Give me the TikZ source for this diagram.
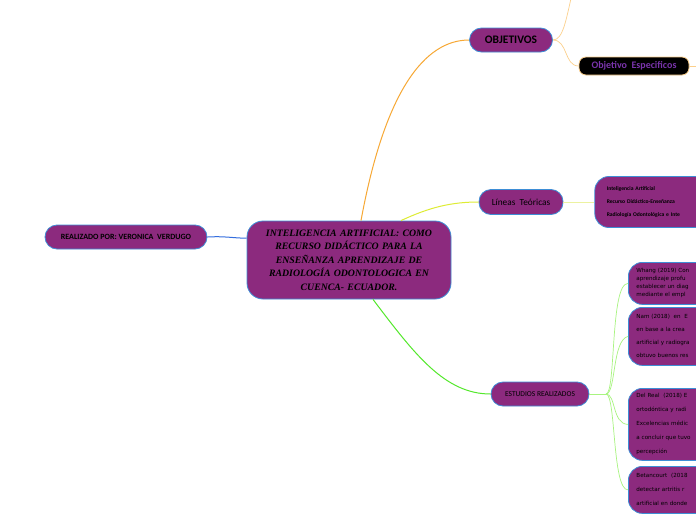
\documentclass[tikz,border=0pt]{standalone}
\usepackage{fontspec}
\setmainfont{Carlito}
\newfontfamily\titlefont{Liberation Serif}
\newfontfamily\notefont{DejaVu Sans}
\usetikzlibrary{positioning}
\definecolor{mapfill}{RGB}{140,42,126}
\definecolor{mapedge}{RGB}{62,142,214}
\definecolor{orangeline}{RGB}{247,168,52}
\definecolor{orangesub}{RGB}{252,208,140}
\definecolor{yellowline}{RGB}{222,236,52}
\definecolor{yellowsub}{RGB}{236,242,160}
\definecolor{greenline}{RGB}{84,232,44}
\definecolor{greensub}{RGB}{168,244,128}
\definecolor{blueline}{RGB}{52,110,222}
\definecolor{specpurple}{RGB}{122,52,172}
\tikzstyle{topic} = [rectangle, rounded corners=12pt, draw=mapedge, line width=0.8pt, fill=mapfill, text centered, inner sep=2pt]
\tikzstyle{central} = [topic, rounded corners=16pt, minimum width=204pt, minimum height=78pt, text width=200pt, font=\titlefont\bfseries\itshape\fontsize{9.8}{13.5}\selectfont]
\tikzstyle{sub} = [topic, minimum height=24pt]
\tikzstyle{leaf} = [topic, rounded corners=14pt, anchor=north west, text width=190pt, align=left, inner xsep=8pt, inner ysep=0pt]
\tikzstyle{special} = [rectangle, rounded corners=7pt, draw=orangesub, line width=0.8pt, fill=black, text=specpurple, minimum width=110pt, minimum height=18pt, font=\bfseries\fontsize{10}{12}\selectfont]
\tikzstyle{branch} = [line width=1pt]
\tikzstyle{twig} = [line width=0.7pt]

\begin{document}
\begin{tikzpicture}[x=1pt, y=-1pt]
	\useasboundingbox (0,0) rectangle (696,520);
	\clip (0,0) rectangle (696,520);
	\fill[white] (0,0) rectangle (696,520);

	\node (main) [central] at (349,260) {INTELIGENCIA ARTIFICIAL: COMO\\ RECURSO DIDÁCTICO PARA LA\\ ENSEÑANZA APRENDIZAJE DE\\ RADIOLOGÍA ODONTOLOGICA EN\\ CUENCA- ECUADOR.};
	\node (autor) [sub, minimum width=162pt, font=\bfseries\fontsize{8}{9}\selectfont] at (126,237) {REALIZADO POR: VERONICA \ VERDUGO};
	\node (obj) [sub, minimum width=83pt, font=\bfseries\fontsize{11.5}{13}\selectfont] at (511,40) {OBJETIVOS};
	\node (spec) [special] at (634,66) {Objetivo \ Especificos};
	\node (lineas) [sub, minimum width=84pt, minimum height=25pt, font=\fontsize{9.3}{11}\selectfont] at (521,202) {Líneas \ Teóricas};
	\node (teoria) [topic, rounded corners=14pt, right=31pt of lineas, minimum width=160pt, minimum height=51pt, text width=136pt, inner xsep=12pt, align=left, font=\bfseries\fontsize{5.6}{13}\selectfont] {Inteligencia Artificial\\ Recurso Didáctico-Enseñanza\\ Radiología Odontológica e Inte};
	\node (estudios) [sub, minimum width=98pt, font=\fontsize{7.5}{9}\selectfont] at (540,394) {ESTUDIOS REALIZADOS};

	% estudios
	\node (whang) [leaf, minimum height=42pt, font=\notefont\fontsize{5.6}{8}\selectfont] at (628,262) {Whang (2019) Con\\ aprendizaje profu\\ establecer un diag\\ mediante el empl};
	\node (nam) [leaf, minimum height=58pt, font=\notefont\fontsize{5.6}{13}\selectfont] at (628,307) {Nam (2018) \ en \ E\\ en base a la crea\\ artificial y radiogra\\ obtuvo buenos res};
	\node (real) [leaf, minimum height=72pt, font=\notefont\fontsize{5.6}{14}\selectfont] at (628,388) {Del Real \ (2018) E\\ ortodóntica y radi\\ Excelencias médic\\ a concluir que tuvo\\ percepción};
	\node (betan) [leaf, minimum height=47pt, font=\notefont\fontsize{5.6}{14}\selectfont] at (628,466) {Betancourt \ (2018\\ detectar artritis r\\ artificial en donde};

	\coordinate (hub) at (606,394);
	\coordinate (objtop) at (572,-6);
	\coordinate (specend) at (700,66);

	\draw [branch, blueline] (autor.east) .. controls (225,236) and (232,238) .. (main.168);
	\draw [branch, orangeline] (main.north) ++(12,0) .. controls (385,90) and (425,40) .. (obj.west);
	\draw [branch, yellowline] (main.north) ++(52,0) .. controls (430,207) and (452,202) .. (lineas.west);
	\draw [branch, greenline] (main.south) ++(24,0) .. controls (415,355) and (445,394) .. (estudios.west);

	\draw [twig, orangesub] (obj.east) .. controls (563,40) and (566,20) .. (objtop);
	\draw [twig, orangesub] (obj.east) .. controls (568,40) and (564,66) .. (spec.west);
	\draw [twig, orangesub] (spec.east) -- (specend);
	\draw [twig, yellowsub] (lineas.east) -- (teoria.west);

	\draw [twig, greensub] (estudios.east) -- (hub);
	\draw [twig, greensub] (hub) .. controls (616,394) and (610,283) .. (whang.west);
	\draw [twig, greensub] (hub) .. controls (616,394) and (612,340) .. (nam.west);
	\draw [twig, greensub] (hub) .. controls (616,394) and (612,424) .. (real.west);
	\draw [twig, greensub] (hub) .. controls (616,394) and (612,490) .. (betan.west);
\end{tikzpicture}
\end{document}
